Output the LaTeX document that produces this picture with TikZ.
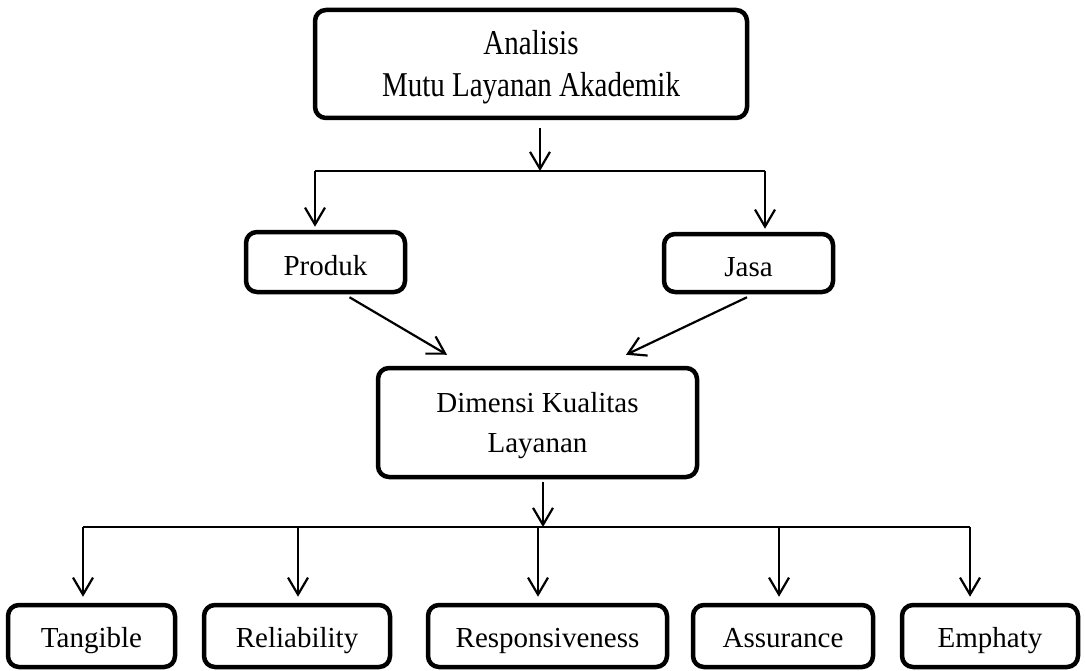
\documentclass[tikz,border=0pt]{standalone}
\usepackage{fontspec}
\usepackage{graphicx}
\setmainfont{Liberation Serif}
\usetikzlibrary{arrows.meta}
\begin{document}
\begin{tikzpicture}[x=1pt,y=-1pt,
  box/.style={draw=black, line width=4.5pt, rounded corners=11pt, fill=white,
    inner sep=0pt, align=center, font=\fontsize{29}{40}\selectfont},
  midbox/.style={box, text height=26pt, text depth=0pt},
  lowbox/.style={box, text height=22pt, text depth=0pt, minimum height=62pt},
  arr/.style={line width=2.2pt, -{Straight Barb[length=17pt,width=20pt,line width=2.2pt]}},
  conn/.style={line width=2pt}
]
\useasboundingbox[fill=white] (0,0) rectangle (1086,671);

% nodes
\node[box, minimum width=432pt, minimum height=108pt, font=\fontsize{29}{42}\selectfont] (top) at (531,64)
  {\rule{0pt}{30pt}\scalebox{1}[1.2]{Analisis}\\\scalebox{1}[1.2]{Mutu Layanan Akademik}};
\node[midbox, minimum width=159pt, minimum height=60pt] (produk) at (325.5,262) {Produk};
\node[midbox, minimum width=169pt, minimum height=58pt] (jasa) at (748.5,263) {Jasa};
\node[box, minimum width=319pt, minimum height=109pt] (dim) at (537.5,422.5) {\rule{0pt}{26pt}Dimensi Kualitas\\Layanan};

\node[lowbox, minimum width=167pt] (tang) at (91.5,636) {Tangible};
\node[lowbox, minimum width=186pt] (rel) at (297,636) {Reliability};
\node[lowbox, minimum width=239pt] (resp) at (547.5,636) {Responsiveness};
\node[lowbox, minimum width=180pt] (ass) at (783,636) {Assurance};
\node[lowbox, minimum width=176pt] (emp) at (990,636) {Emphaty};

% junction coordinates (top)
\coordinate (ja) at (540,171);
\coordinate (jl) at (315,171);
\coordinate (jr) at (765,171);

\draw[arr] ([yshift=-8pt]top.south -| ja) -- (ja);
\draw[conn] (jl) -- (jr);
\draw[arr] (jl) -- ([yshift=3pt]produk.north -| jl);
\draw[arr] (jr) -- ([yshift=3pt]jasa.north -| jr);

% diagonals
\draw[arr] ([xshift=24pt,yshift=-3pt]produk.south) -- ([xshift=-90.5pt,yshift=11pt]dim.north);
\draw[arr] ([xshift=-1.5pt,yshift=-3pt]jasa.south) -- ([xshift=88.5pt,yshift=11pt]dim.north);

% junction coordinates (bottom)
\coordinate (kb) at (543,527);
\coordinate (k1) at (83,527);
\coordinate (k2) at (298,527);
\coordinate (k3) at (538,527);
\coordinate (k4) at (779,527);
\coordinate (k5) at (970,527);

\draw[arr] ([yshift=-3pt]dim.south -| kb) -- (kb);
\draw[conn] (k1) -- (k5);
\draw[arr] (k1) -- ([yshift=6pt]tang.north -| k1);
\draw[arr] (k2) -- ([yshift=6pt]rel.north -| k2);
\draw[arr] (k3) -- ([yshift=6pt]resp.north -| k3);
\draw[arr] (k4) -- ([yshift=6pt]ass.north -| k4);
\draw[arr] (k5) -- ([yshift=6pt]emp.north -| k5);
\end{tikzpicture}
\end{document}
